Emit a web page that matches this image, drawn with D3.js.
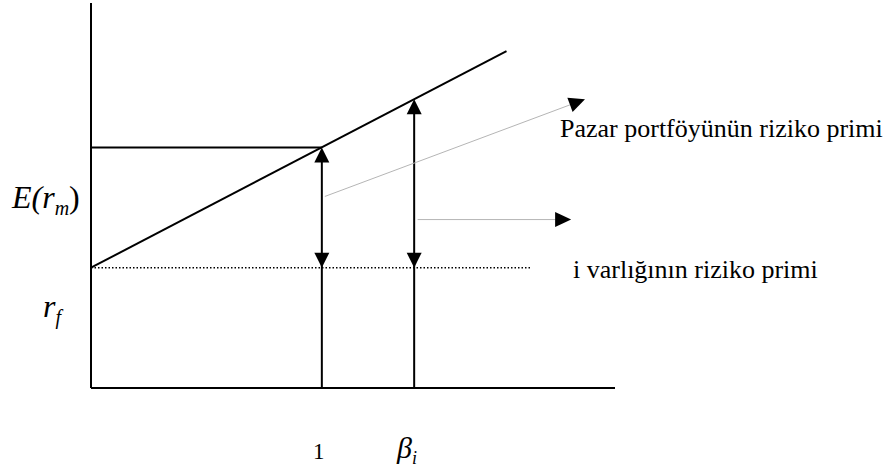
<!DOCTYPE html>
<html>
<head>
<meta charset="utf-8">
<script src="https://cdn.jsdelivr.net/npm/d3@7"></script>
<style>
  body { margin: 0; background: #fff; }
  svg text { font-family: "Liberation Serif", "Times New Roman", serif; fill: #000; }
</style>
</head>
<body>
<div id="chart"></div>
<script>
// values (beta on x, expected return on y)
const rf = 0.05;            // risk free rate
const erm = 0.10;           // expected market return
const betaPoints = [1, 1.4];          // market beta, beta of asset i
const betaLabels = ["1", "β"];
const smlBeta = [0, 1.8];             // extent of the SML line
const rfLineBeta = [0, 1.91];         // extent of the dotted r_f line
// pointer arrows: [fromBeta, fromReturn, toBeta, toReturn]
const pointers = [
    [1.013, 0.0796, 2.14, 0.12],
    [1.415, 0.07, 2.08, 0.07]
];
const pointerLabels = ["Pazar portföyünün riziko primi", "i varlığının riziko primi"];

const width = 895, height = 470;

const svg = d3.select("#chart")
    .append("svg")
    .attr("width", width)
    .attr("height", height);

// scales
const xScale = d3.scaleLinear().domain([0, 2.27]).range([91, 615]);
const yScale = d3.scaleLinear().domain([0, 0.16]).range([388, 3]);

const sml = b => rf + b * (erm - rf);

// arrow head helper
const arrowHead = (tx, ty, angle, len, w, fill) => {
    const dx = Math.cos(angle), dy = Math.sin(angle);
    const bx = tx - dx * len, by = ty - dy * len;
    const px = -dy * w / 2, py = dx * w / 2;
    svg.append("path")
        .attr("d", `M${tx},${ty}L${bx + px},${by + py}L${bx - px},${by - py}Z`)
        .attr("fill", fill || "#000");
};

// axes
svg.append("line")
    .attr("x1", xScale(0)).attr("x2", xScale(0))
    .attr("y1", yScale(0.16)).attr("y2", yScale(0))
    .attr("stroke", "#000").attr("stroke-width", 2);
svg.append("line")
    .attr("x1", xScale(0)).attr("x2", xScale(2.27))
    .attr("y1", yScale(0)).attr("y2", yScale(0))
    .attr("stroke", "#000").attr("stroke-width", 2);

// dotted r_f line
svg.append("line")
    .attr("x1", xScale(rfLineBeta[0])).attr("x2", xScale(rfLineBeta[1]))
    .attr("y1", yScale(rf)).attr("y2", yScale(rf))
    .attr("stroke", "#000").attr("stroke-width", 1.5)
    .attr("stroke-dasharray", "1.5,2");

// E(rm) line
svg.append("line")
    .attr("x1", xScale(0)).attr("x2", xScale(betaPoints[0]))
    .attr("y1", yScale(erm)).attr("y2", yScale(erm))
    .attr("stroke", "#000").attr("stroke-width", 2);

// SML
svg.append("line")
    .attr("x1", xScale(smlBeta[0])).attr("x2", xScale(smlBeta[1]))
    .attr("y1", yScale(sml(smlBeta[0]))).attr("y2", yScale(sml(smlBeta[1])))
    .attr("stroke", "#000").attr("stroke-width", 2);

// vertical arrows
betaPoints.forEach(b => {
    const x = xScale(b);
    svg.append("line")
        .attr("x1", x).attr("x2", x)
        .attr("y1", yScale(sml(b)) + 4).attr("y2", yScale(0))
        .attr("stroke", "#000").attr("stroke-width", 2);
    arrowHead(x, yScale(sml(b)), -Math.PI / 2, 15, 15);
    arrowHead(x, yScale(rf), Math.PI / 2, 15, 15);
});

// grey pointer arrows
pointers.forEach(p => {
    const x1 = xScale(p[0]), y1 = yScale(p[1]), x2 = xScale(p[2]), y2 = yScale(p[3]);
    const ang = Math.atan2(y2 - y1, x2 - x1);
    svg.append("line")
        .attr("x1", x1).attr("y1", y1)
        .attr("x2", x2 - Math.cos(ang) * 10).attr("y2", y2 - Math.sin(ang) * 10)
        .attr("stroke", "#b5b5b5").attr("stroke-width", 1);
    arrowHead(x2, y2, ang, 16, 15);
});

// pointer labels
svg.append("text")
    .attr("x", 560).attr("y", 137)
    .style("font-size", "26px")
    .text(pointerLabels[0]);
svg.append("text")
    .attr("x", 573).attr("y", 278)
    .style("font-size", "26px")
    .text(pointerLabels[1]);

// y labels
const eLab = svg.append("text")
    .attr("x", 12).attr("y", 208)
    .style("font-size", "32px").style("font-style", "italic");
eLab.append("tspan").text("E(r");
eLab.append("tspan").attr("dy", 7).style("font-size", "20px").text("m");
eLab.append("tspan").attr("dy", -7).style("font-style", "normal").text(")");

const rLab = svg.append("text")
    .attr("x", 43).attr("y", 317)
    .style("font-size", "32px").style("font-style", "italic");
rLab.append("tspan").text("r");
rLab.append("tspan").attr("dy", 7).style("font-size", "20px").text("f");

// x labels
svg.append("text")
    .attr("x", xScale(betaPoints[0]) - 3).attr("y", 459)
    .attr("text-anchor", "middle")
    .style("font-size", "23px")
    .text(betaLabels[0]);
const bLab = svg.append("text")
    .attr("x", 397).attr("y", 458)
    .style("font-size", "30px").style("font-style", "italic");
bLab.append("tspan").text(betaLabels[1]);
bLab.append("tspan").attr("dy", 6).style("font-size", "18px").text("i");
</script>
</body>
</html>
